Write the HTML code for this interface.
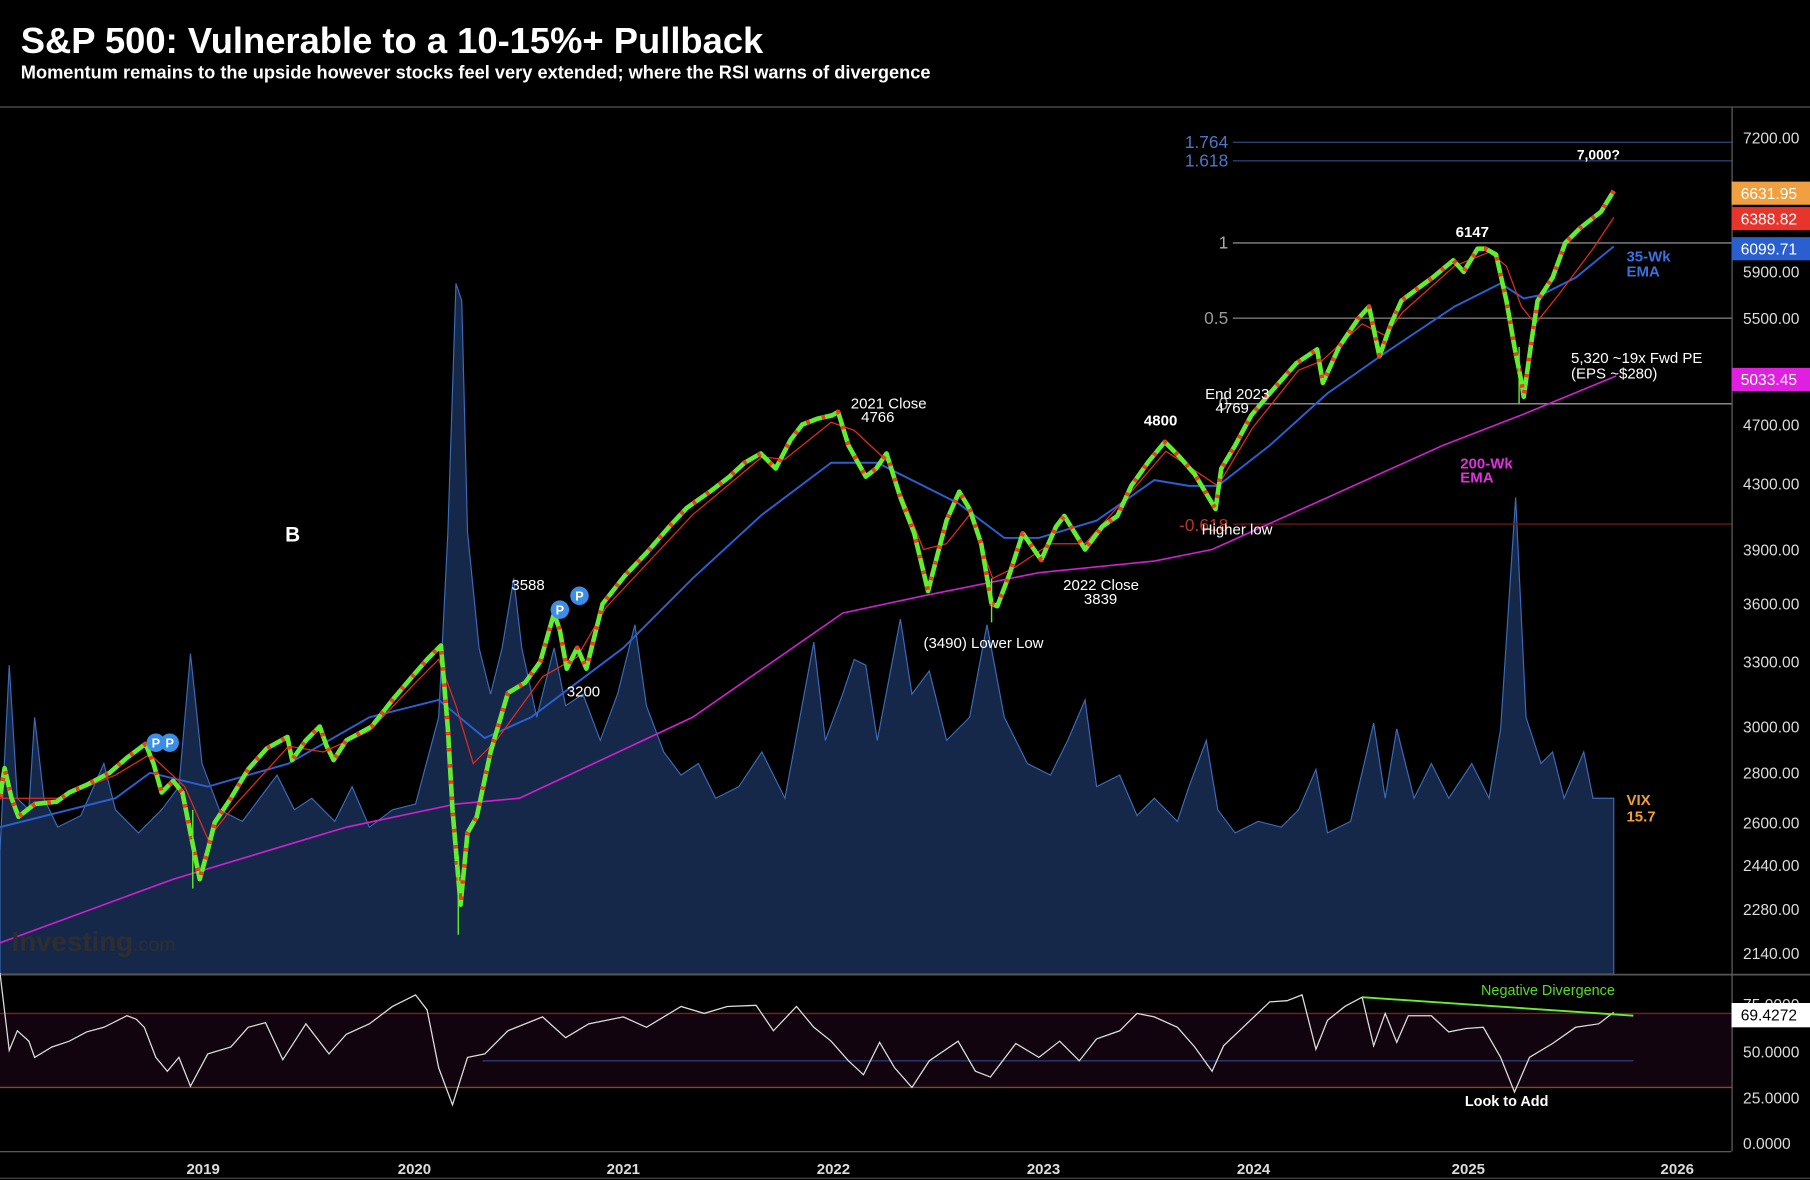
<!DOCTYPE html>
<html><head><meta charset="utf-8"><style>
html,body{margin:0;padding:0;background:#000;width:1810px;height:1180px;overflow:hidden}
svg{display:block}
text{font-family:"Liberation Sans",sans-serif}
</style></head><body>
<svg width="1810" height="1180" viewBox="0 0 1568 1020" preserveAspectRatio="none" xmlns="http://www.w3.org/2000/svg">
<rect width="1568" height="1020" fill="#000"/>
<text x="18" y="46" fill="#fff" font-size="31.5" font-weight="bold">S&amp;P 500: Vulnerable to a 10-15%+ Pullback</text>
<text x="18" y="68" fill="#fff" font-size="15.8" font-weight="bold">Momentum remains to the upside however stocks feel very extended; where the RSI warns of divergence</text>
<line x1="0" y1="92.5" x2="1568" y2="92.5" stroke="#555" stroke-width="1"/>
<rect x="0" y="843" width="1500" height="152" fill="#000"/>
<rect x="0" y="876" width="1500" height="64" fill="#12040f"/>

<path d="M0 842 L0 735 L8 575 L15 690 L25 700 L30 620 L38 690 L50 715 L70 705 L90 660 L100 700 L120 720 L140 700 L155 680 L165 565 L175 660 L190 700 L210 710 L240 670 L255 700 L270 690 L290 710 L305 680 L320 715 L340 700 L360 695 L380 620 L388 460 L395 245 L400 260 L405 460 L415 560 L425 600 L435 560 L445 500 L452 560 L465 620 L480 560 L490 610 L505 600 L520 640 L535 600 L550 540 L560 610 L575 650 L590 670 L605 660 L620 690 L640 680 L660 650 L680 690 L705 555 L715 640 L730 600 L740 570 L750 575 L760 640 L780 535 L790 600 L805 580 L820 640 L840 620 L855 540 L870 620 L890 660 L910 670 L925 640 L940 605 L950 680 L970 670 L985 705 L1000 690 L1020 710 L1030 680 L1045 640 L1055 700 L1070 720 L1090 710 L1110 715 L1125 700 L1140 665 L1150 720 L1170 710 L1190 625 L1200 690 L1210 630 L1225 690 L1240 660 L1255 690 L1275 660 L1290 690 L1300 630 L1313 430 L1322 620 L1335 660 L1345 650 L1355 690 L1372 650 L1380 690 L1398 690 L1398 842 Z" fill="#16284a" stroke="#3a6cb8" stroke-width="1"/>

<g stroke-width="1.2">
<line x1="1068" y1="123" x2="1500" y2="123" stroke="#2a4070"/>
<line x1="1068" y1="139" x2="1500" y2="139" stroke="#2a4070"/>
<line x1="1068" y1="210" x2="1500" y2="210" stroke="#888"/>
<line x1="1068" y1="275" x2="1500" y2="275" stroke="#777"/>
<line x1="1065" y1="349" x2="1500" y2="349" stroke="#888"/>
<line x1="1068" y1="453" x2="1500" y2="453" stroke="#6a1a10"/>
</g>
<g font-size="15" text-anchor="end">
<text x="1064" y="128" fill="#4a78c8">1.764</text>
<text x="1064" y="144" fill="#4a78c8">1.618</text>
<text x="1064" y="215" fill="#aaa">1</text>
<text x="1064" y="280" fill="#999">0.5</text>
<text x="1064" y="354" fill="#aaa">0</text>
<text x="1064" y="459" fill="#c03020">-0.618</text>
</g>

<path d="M0 815 L150 760 L300 715 L395 695 L450 690 L600 620 L730 530 L800 515 L900 495 L1000 485 L1050 475 L1150 430 L1250 385 L1320 358 L1400 325" fill="none" stroke="#d020d0" stroke-width="1.4"/>
<path d="M0 715 L100 690 L130 668 L180 680 L250 660 L320 620 L380 605 L420 638 L460 620 L540 560 L600 500 L660 445 L720 400 L760 400 L800 420 L830 435 L870 465 L900 465 L950 450 L1000 415 L1030 420 L1055 420 L1100 385 L1150 340 L1200 305 L1260 265 L1300 245 L1320 258 L1335 255 L1365 240 L1398 213" fill="none" stroke="#2a5fd0" stroke-width="1.7"/>
<path d="M0 690 L50 690 L100 670 L130 652 L160 680 L180 725 L200 700 L250 645 L280 650 L320 632 L360 590 L380 570 L395 610 L410 660 L430 640 L470 585 L500 568 L525 525 L600 445 L660 395 L680 397 L720 365 L740 372 L770 400 L800 475 L820 470 L840 445 L860 500 L880 490 L910 470 L940 470 L980 425 L1010 390 L1040 410 L1055 420 L1085 370 L1125 320 L1145 312 L1180 280 L1200 290 L1215 270 L1260 230 L1290 218 L1305 230 L1318 265 L1330 280 L1350 255 L1380 215 L1398 188" fill="none" stroke="#e02a1a" stroke-width="1.1"/>

<g fill="none" stroke-linejoin="round">
<path d="M0 689 L4 664 L10 690 L16 706 L30 695 L49 693 L60 685 L76 678 L95 668 L110 655 L126 643 L133 660 L140 685 L150 675 L158 685 L165 720 L173 760 L180 735 L186 711 L200 690 L215 665 L231 647 L249 637 L253 657 L265 640 L277 628 L283 645 L289 657 L300 640 L322 628 L340 605 L357 585 L370 570 L382 558 L388 630 L392 700 L399 782 L405 720 L413 706 L425 650 L440 599 L455 590 L468 572 L480 530 L485 545 L491 578 L500 560 L508 578 L522 522 L541 498 L560 478 L580 455 L595 439 L615 425 L632 412 L645 400 L659 392 L672 405 L685 380 L695 367 L708 362 L721 359 L726 356 L735 385 L750 412 L759 405 L768 392 L780 430 L792 461 L804 511 L812 480 L820 450 L831 425 L840 440 L850 470 L859 522 L864 524 L875 495 L886 461 L902 484 L915 455 L922 446 L940 475 L955 455 L968 446 L980 420 L995 399 L1009 382 L1022 395 L1035 410 L1053 440 L1058 405 L1070 385 L1084 359 L1100 340 L1123 314 L1141 302 L1146 331 L1160 300 L1177 275 L1186 265 L1195 308 L1205 280 L1214 260 L1230 248 L1241 240 L1259 225 L1268 235 L1280 215 L1287 215 L1296 220 L1305 260 L1312 300 L1318 330 L1320 343 L1326 300 L1332 260 L1345 240 L1356 210 L1369 197 L1387 183 L1398 165" stroke="#62ee2e" stroke-width="4"/>
<path d="M0 689 L4 664 L10 690 L16 706 L30 695 L49 693 L60 685 L76 678 L95 668 L110 655 L126 643 L133 660 L140 685 L150 675 L158 685 L165 720 L173 760 L180 735 L186 711 L200 690 L215 665 L231 647 L249 637 L253 657 L265 640 L277 628 L283 645 L289 657 L300 640 L322 628 L340 605 L357 585 L370 570 L382 558 L388 630 L392 700 L399 782 L405 720 L413 706 L425 650 L440 599 L455 590 L468 572 L480 530 L485 545 L491 578 L500 560 L508 578 L522 522 L541 498 L560 478 L580 455 L595 439 L615 425 L632 412 L645 400 L659 392 L672 405 L685 380 L695 367 L708 362 L721 359 L726 356 L735 385 L750 412 L759 405 L768 392 L780 430 L792 461 L804 511 L812 480 L820 450 L831 425 L840 440 L850 470 L859 522 L864 524 L875 495 L886 461 L902 484 L915 455 L922 446 L940 475 L955 455 L968 446 L980 420 L995 399 L1009 382 L1022 395 L1035 410 L1053 440 L1058 405 L1070 385 L1084 359 L1100 340 L1123 314 L1141 302 L1146 331 L1160 300 L1177 275 L1186 265 L1195 308 L1205 280 L1214 260 L1230 248 L1241 240 L1259 225 L1268 235 L1280 215 L1287 215 L1296 220 L1305 260 L1312 300 L1318 330 L1320 343 L1326 300 L1332 260 L1345 240 L1356 210 L1369 197 L1387 183 L1398 165" stroke="#ee3a20" stroke-width="4" stroke-dasharray="3 11"/>
</g>
<g stroke-width="1.2">
<line x1="167" y1="700" x2="167" y2="768" stroke="#62ee2e"/>
<line x1="397" y1="740" x2="397" y2="808" stroke="#62ee2e"/>
<line x1="1316" y1="300" x2="1316" y2="349" stroke="#62ee2e"/>
<line x1="859" y1="500" x2="859" y2="538" stroke="#62ee2e"/>
</g>

<g fill="#fff" font-size="13">
<text x="247" y="468" font-size="18" font-weight="bold">B</text>
<text x="443" y="510">3588</text>
<text x="491" y="602">3200</text>
<text x="737" y="353">2021 Close</text>
<text x="746" y="365">4766</text>
<text x="800" y="560">(3490) Lower Low</text>
<text x="921" y="510">2022 Close</text>
<text x="939" y="522">3839</text>
<text x="991" y="368" font-weight="bold">4800</text>
<text x="1044" y="345">End 2023</text>
<text x="1053" y="357">4769</text>
<text x="1041" y="462">Higher low</text>
<text x="1261" y="205" font-weight="bold">6147</text>
<text x="1366" y="138" font-weight="bold" font-size="12">7,000?</text>
<text x="1361" y="314">5,320 ~19x Fwd PE</text>
<text x="1361" y="327">(EPS ~$280)</text>
</g>
<g font-size="13" font-weight="bold">
<text x="1409" y="226" fill="#3a70e0">35-Wk</text>
<text x="1409" y="239" fill="#3a70e0">EMA</text>
<text x="1265" y="405" fill="#e030e0">200-Wk</text>
<text x="1265" y="417" fill="#e030e0">EMA</text>
<text x="1409" y="696" fill="#f0a030">VIX</text>
<text x="1409" y="710" fill="#f0a030">15.7</text>
</g>
<g font-size="11" font-weight="bold" fill="#fff" text-anchor="middle">
<circle cx="135" cy="642" r="8" fill="#3a8ee8"/><text x="135" y="646">P</text>
<circle cx="147" cy="642" r="8" fill="#3a8ee8"/><text x="147" y="646">P</text>
<circle cx="485" cy="527" r="8" fill="#3a8ee8"/><text x="485" y="531">P</text>
<circle cx="502" cy="515" r="8" fill="#3a8ee8"/><text x="502" y="519">P</text>
</g>
<text x="10" y="822" fill="#2e2e2e" font-size="24" font-weight="bold">Investing<tspan font-size="17" font-weight="normal">.com</tspan></text>

<line x1="0" y1="842.5" x2="1568" y2="842.5" stroke="#555" stroke-width="1.5"/>
<line x1="0" y1="876" x2="1500" y2="876" stroke="#8a1a1a" stroke-width="1.2"/>
<line x1="0" y1="940" x2="1500" y2="940" stroke="#8a4a10" stroke-width="1.2"/>
<line x1="418" y1="917" x2="1415" y2="917" stroke="#2a3a70" stroke-width="1.2"/>
<path d="M0 841 L8 908 L15 891 L25 900 L30 914 L45 905 L60 900 L75 892 L90 888 L110 878 L118 881 L125 888 L135 914 L145 926 L155 914 L165 939 L180 911 L200 905 L215 888 L230 884 L245 916 L265 885 L285 911 L300 894 L320 885 L340 870 L360 860 L370 873 L380 923 L392 955 L405 914 L420 911 L440 891 L470 879 L490 897 L510 885 L540 879 L560 888 L590 870 L610 876 L630 870 L655 869 L670 891 L690 870 L705 888 L720 900 L735 917 L748 929 L762 901 L775 923 L790 940 L805 917 L830 900 L845 926 L858 931 L880 902 L900 914 L918 900 L935 917 L950 898 L970 891 L985 876 L1000 879 L1020 888 L1035 905 L1050 926 L1060 904 L1080 885 L1100 866 L1115 865 L1128 860 L1140 907 L1150 882 L1165 870 L1180 862 L1190 904 L1200 876 L1210 901 L1220 878 L1240 878 L1255 892 L1270 889 L1285 888 L1300 914 L1312 944 L1325 914 L1345 902 L1365 888 L1385 885 L1398 875" fill="none" stroke="#ddd" stroke-width="1.1"/>
<line x1="1180" y1="862" x2="1415" y2="878" stroke="#66ee33" stroke-width="1.6"/>
<text x="1283" y="860" fill="#55dd22" font-size="12.5">Negative Divergence</text>
<text x="1269" y="956" fill="#fff" font-size="12.5" font-weight="bold">Look to Add</text>

<line x1="1500.5" y1="93" x2="1500.5" y2="995" stroke="#666" stroke-width="1"/>
<line x1="0" y1="995.5" x2="1500" y2="995.5" stroke="#666" stroke-width="1"/>
<line x1="0" y1="1018.5" x2="1568" y2="1018.5" stroke="#444" stroke-width="1"/>
<g fill="#ddd" font-size="13.5">
<text x="1510" y="124">7200.00</text>
<text x="1510" y="240">5900.00</text>
<text x="1510" y="280">5500.00</text>
<text x="1510" y="372">4700.00</text>
<text x="1510" y="423">4300.00</text>
<text x="1510" y="480">3900.00</text>
<text x="1510" y="527">3600.00</text>
<text x="1510" y="577">3300.00</text>
<text x="1510" y="633">3000.00</text>
<text x="1510" y="673">2800.00</text>
<text x="1510" y="716">2600.00</text>
<text x="1510" y="753">2440.00</text>
<text x="1510" y="791">2280.00</text>
<text x="1510" y="829">2140.00</text>
<text x="1510" y="873">75.0000</text>
<text x="1510" y="914">50.0000</text>
<text x="1510" y="954">25.0000</text>
<text x="1510" y="993">0.0000</text>
</g>
<g font-size="13" font-weight="bold" fill="#ddd" text-anchor="middle">
<text x="176" y="1015">2019</text><text x="359" y="1015">2020</text><text x="540" y="1015">2021</text><text x="722" y="1015">2022</text><text x="904" y="1015">2023</text><text x="1086" y="1015">2024</text><text x="1272" y="1015">2025</text><text x="1453" y="1015">2026</text>
</g>
<g font-size="13.5">
<rect x="1500" y="157" width="68" height="20" fill="#f0a040"/><text x="1508" y="172" fill="#fff">6631.95</text>
<rect x="1500" y="179" width="68" height="20" fill="#e8352c"/><text x="1508" y="194" fill="#fff">6388.82</text>
<rect x="1500" y="205" width="68" height="20" fill="#2a5fd0"/><text x="1508" y="220" fill="#fff">6099.71</text>
<rect x="1500" y="318" width="68" height="20" fill="#e020e0"/><text x="1508" y="333" fill="#fff">5033.45</text>
<rect x="1500" y="867" width="68" height="21" fill="#fff"/><text x="1508" y="882" fill="#000">69.4272</text>
</g>
</svg>
</body></html>
